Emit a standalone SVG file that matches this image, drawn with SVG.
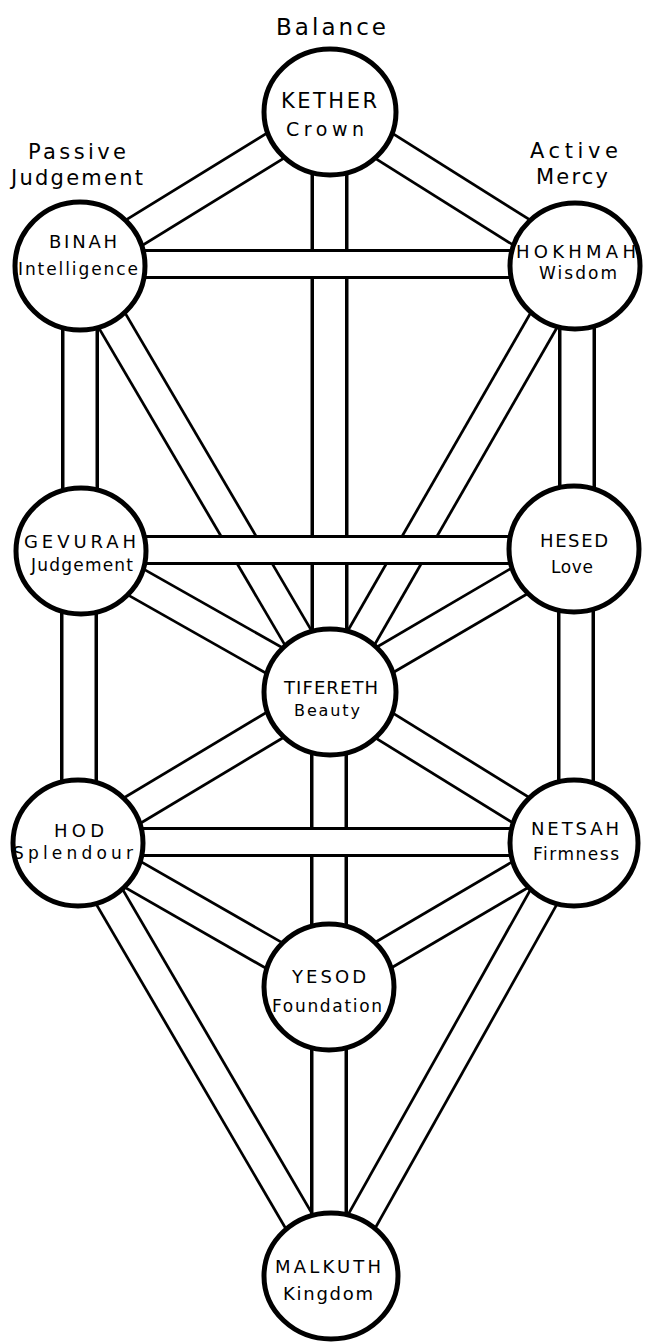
<svg xmlns="http://www.w3.org/2000/svg" width="645" height="1343" viewBox="0 0 645 1343">
<style>
.o{stroke:#000;fill:none}
.i{stroke:#fff;fill:none}
.d.o{stroke-width:33}.d.i{stroke-width:27.5}
.v.o{stroke-width:38}.v.i{stroke-width:31}
.h.o{stroke-width:30}.h.i{stroke-width:24}
.node ellipse{fill:#fff;stroke:#000;stroke-width:5}
text{font-family:"DejaVu Sans","Liberation Sans",sans-serif;fill:#000;text-anchor:middle}
.lbl{font-size:21px}
.nm{font-size:18px}
.sb{font-size:17px}
</style>
<rect width="645" height="1343" fill="#fff"/>
<g id="labels">
<text x="331" y="35" font-size="23" textLength="110" lengthAdjust="spacing">Balance</text>
<text class="lbl" x="77" y="159" textLength="98" lengthAdjust="spacing">Passive</text>
<text class="lbl" x="77" y="185" textLength="132" lengthAdjust="spacing">Judgement</text>
<text class="lbl" x="574" y="158" textLength="88" lengthAdjust="spacing">Active</text>
<text class="lbl" x="572" y="184" textLength="72" lengthAdjust="spacing">Mercy</text>
</g>
<g id="connectors">
<line class="d o" x1="330" y1="112" x2="80" y2="266"/><line class="d i" x1="330" y1="112" x2="80" y2="266"/>
<line class="d o" x1="330" y1="112" x2="575" y2="266"/><line class="d i" x1="330" y1="112" x2="575" y2="266"/>
<line class="v o" x1="329.5" y1="112" x2="329.5" y2="692"/><line class="v i" x1="329.5" y1="112" x2="329.5" y2="692"/>
<line class="v o" x1="80" y1="266" x2="80" y2="551"/><line class="v i" x1="80" y1="266" x2="80" y2="551"/>
<line class="v o" x1="577" y1="266" x2="577" y2="549"/><line class="v i" x1="577" y1="266" x2="577" y2="549"/>
<line class="d o" x1="80" y1="266" x2="330" y2="692"/><line class="d i" x1="80" y1="266" x2="330" y2="692"/>
<line class="d o" x1="575" y1="266" x2="330" y2="692"/><line class="d i" x1="575" y1="266" x2="330" y2="692"/>
<line class="d o" x1="81" y1="551" x2="330" y2="692"/><line class="d i" x1="81" y1="551" x2="330" y2="692"/>
<line class="d o" x1="574" y1="549" x2="330" y2="692"/><line class="d i" x1="574" y1="549" x2="330" y2="692"/>
<line class="v o" x1="79" y1="551" x2="79" y2="843"/><line class="v i" x1="79" y1="551" x2="79" y2="843"/>
<line class="v o" x1="576" y1="549" x2="576" y2="843"/><line class="v i" x1="576" y1="549" x2="576" y2="843"/>
<line class="d o" x1="330" y1="692" x2="78" y2="843"/><line class="d i" x1="330" y1="692" x2="78" y2="843"/>
<line class="d o" x1="330" y1="692" x2="574" y2="843"/><line class="d i" x1="330" y1="692" x2="574" y2="843"/>
<line class="v o" x1="329" y1="692" x2="329" y2="987"/><line class="v i" x1="329" y1="692" x2="329" y2="987"/>
<line class="d o" x1="78" y1="843" x2="329" y2="987"/><line class="d i" x1="78" y1="843" x2="329" y2="987"/>
<line class="d o" x1="574" y1="843" x2="329" y2="987"/><line class="d i" x1="574" y1="843" x2="329" y2="987"/>
<line class="d o" x1="78" y1="843" x2="331" y2="1276"/><line class="d i" x1="78" y1="843" x2="331" y2="1276"/>
<line class="d o" x1="574" y1="843" x2="331" y2="1276"/><line class="d i" x1="574" y1="843" x2="331" y2="1276"/>
<line class="v o" x1="329" y1="987" x2="329" y2="1276"/><line class="v i" x1="329" y1="987" x2="329" y2="1276"/>
<line class="h o" x1="80" y1="264" x2="575" y2="264"/><line class="h i" x1="80" y1="264" x2="575" y2="264"/>
<line class="h o" x1="81" y1="550" x2="574" y2="550"/><line class="h i" x1="81" y1="550" x2="574" y2="550"/>
<line class="h o" x1="78" y1="842" x2="574" y2="842"/><line class="h i" x1="78" y1="842" x2="574" y2="842"/>
</g>
<g id="kether" class="node"><ellipse cx="330" cy="112" rx="66" ry="63"/>
<text x="329" y="108" font-size="21" textLength="96" lengthAdjust="spacing">KETHER</text>
<text x="325" y="136" font-size="19" textLength="78" lengthAdjust="spacing">Crown</text></g>
<g id="binah" class="node"><ellipse cx="80" cy="266" rx="65" ry="64"/>
<text class="nm" x="83" y="248" textLength="68" lengthAdjust="spacing">BINAH</text>
<text class="sb" x="78" y="275" textLength="120" lengthAdjust="spacing">Intelligence</text></g>
<g id="hokhmah" class="node"><ellipse cx="575" cy="266" rx="65" ry="63"/>
<text class="nm" x="576" y="258" textLength="120" lengthAdjust="spacing">HOKHMAH</text>
<text class="sb" x="578" y="279" textLength="78" lengthAdjust="spacing">Wisdom</text></g>
<g id="gevurah" class="node"><ellipse cx="81" cy="551" rx="65" ry="63"/>
<text x="80" y="548" font-size="18" textLength="112" lengthAdjust="spacing">GEVURAH</text>
<text class="sb" x="82" y="571" textLength="102" lengthAdjust="spacing">Judgement</text></g>
<g id="hesed" class="node"><ellipse cx="574" cy="549" rx="65" ry="63"/>
<text class="nm" x="574" y="547" textLength="68" lengthAdjust="spacing">HESED</text>
<text class="sb" x="572" y="573" textLength="42" lengthAdjust="spacing">Love</text></g>
<g id="tifereth" class="node"><ellipse cx="330" cy="692" rx="66" ry="63"/>
<text class="nm" x="331" y="694" textLength="94" lengthAdjust="spacing">TIFERETH</text>
<text x="327" y="716" font-size="16" textLength="66" lengthAdjust="spacing">Beauty</text></g>
<g id="hod" class="node"><ellipse cx="78" cy="843" rx="65" ry="63"/>
<text class="nm" x="79" y="837" textLength="50" lengthAdjust="spacing">HOD</text>
<text class="sb" x="73" y="859" textLength="120" lengthAdjust="spacing">Splendour</text></g>
<g id="netsah" class="node"><ellipse cx="574" cy="843" rx="64" ry="63"/>
<text class="nm" x="575" y="835" textLength="88" lengthAdjust="spacing">NETSAH</text>
<text class="sb" x="576" y="860" textLength="86" lengthAdjust="spacing">Firmness</text></g>
<g id="yesod" class="node"><ellipse cx="329" cy="987" rx="65" ry="63"/>
<text x="329" y="983" font-size="18" textLength="74" lengthAdjust="spacing">YESOD</text>
<text class="sb" x="327" y="1012" textLength="110" lengthAdjust="spacing">Foundation</text></g>
<g id="malkuth" class="node"><ellipse cx="331" cy="1276" rx="67" ry="63"/>
<text x="328" y="1273" font-size="18" textLength="106" lengthAdjust="spacing">MALKUTH</text>
<text x="328" y="1300" font-size="18" textLength="90" lengthAdjust="spacing">Kingdom</text></g>
</svg>
